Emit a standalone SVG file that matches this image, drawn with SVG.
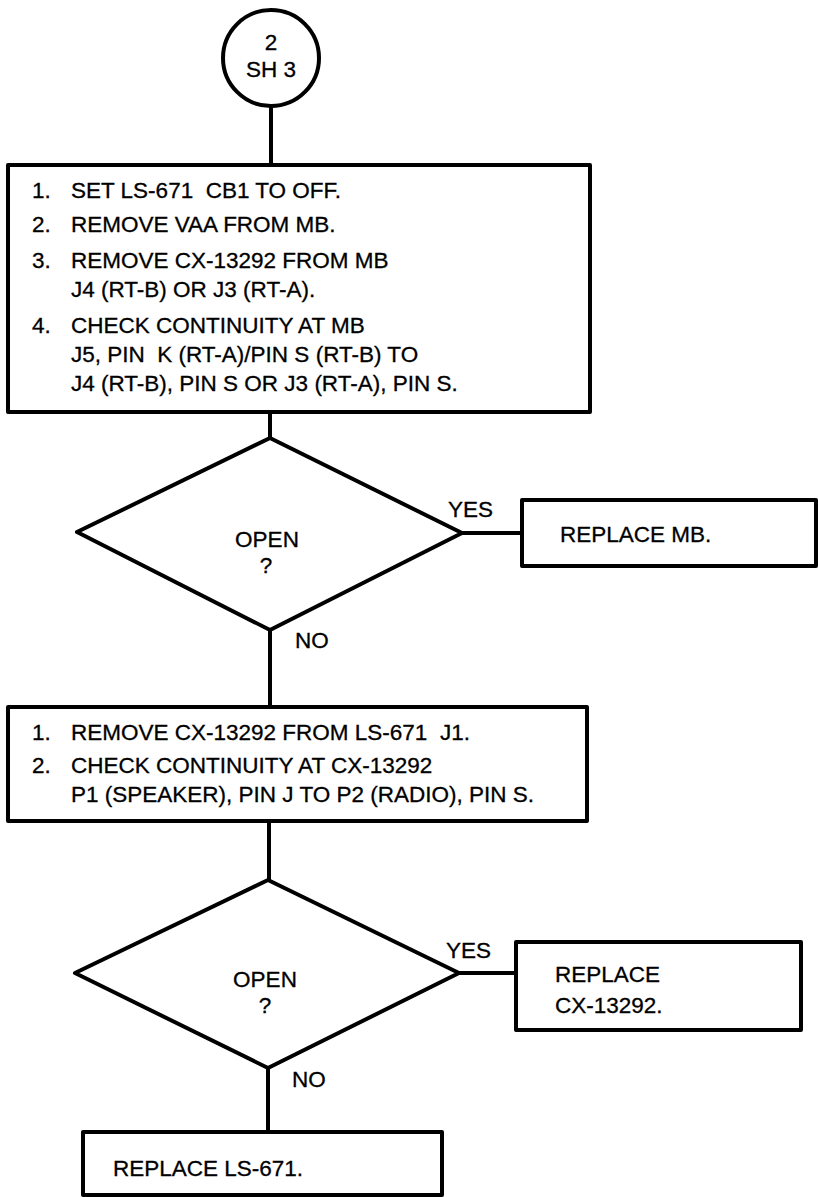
<svg xmlns="http://www.w3.org/2000/svg" width="818" height="1197" viewBox="0 0 818 1197">
<style>
.s{fill:#fff;stroke:#000;stroke-width:4;stroke-linejoin:round}
.c line{stroke:#000;stroke-width:4}
text{font-family:"Liberation Sans",Arial,Helvetica,sans-serif;font-size:22.5px;fill:#000;stroke:#000;stroke-width:0.3}
.m{text-anchor:middle}
</style>
<rect width="818" height="1197" fill="#fff"/>
<g class="c" id="connectors">
<line x1="271" y1="106" x2="271" y2="165"/>
<line x1="270" y1="412" x2="270" y2="438"/>
<line x1="462" y1="533" x2="522" y2="533"/>
<line x1="270" y1="630" x2="270" y2="707"/>
<line x1="269" y1="821" x2="269" y2="880"/>
<line x1="459" y1="973" x2="516" y2="973"/>
<line x1="268" y1="1068" x2="268" y2="1132"/>
</g>
<g id="start">
<circle class="s" cx="271" cy="58" r="48"/>
<text class="m" x="271" y="50">2</text>
<text class="m" x="271" y="77">SH 3</text>
</g>
<g id="box1">
<rect class="s" x="8" y="165" width="582" height="247"/>
<text x="32" y="198">1.</text><text x="71" y="198" xml:space="preserve">SET LS-671  CB1 TO OFF.</text>
<text x="32" y="232">2.</text><text x="71" y="232">REMOVE VAA FROM MB.</text>
<text x="32" y="268">3.</text><text x="71" y="268">REMOVE CX-13292 FROM MB</text>
<text x="71" y="297">J4 (RT-B) OR J3 (RT-A).</text>
<text x="32" y="333">4.</text><text x="71" y="333">CHECK CONTINUITY AT MB</text>
<text x="71" y="362" xml:space="preserve">J5, PIN  K (RT-A)/PIN S (RT-B) TO</text>
<text x="71" y="391">J4 (RT-B), PIN S OR J3 (RT-A), PIN S.</text>
</g>
<g id="decision1">
<polygon class="s" points="270,438 462,533 270,630 77,532"/>
<text class="m" x="267" y="547">OPEN</text>
<text class="m" x="266" y="573">?</text>
<text x="448" y="517">YES</text>
<text x="295" y="648">NO</text>
</g>
<g id="replaceMB">
<rect class="s" x="522" y="500" width="294" height="66"/>
<text x="560" y="542">REPLACE MB.</text>
</g>
<g id="box2">
<rect class="s" x="8" y="707" width="579" height="114"/>
<text x="32" y="740">1.</text><text x="71" y="740" xml:space="preserve">REMOVE CX-13292 FROM LS-671  J1.</text>
<text x="32" y="773">2.</text><text x="71" y="773">CHECK CONTINUITY AT CX-13292</text>
<text x="71" y="802">P1 (SPEAKER), PIN J TO P2 (RADIO), PIN S.</text>
</g>
<g id="decision2">
<polygon class="s" points="268,880 459,973 268,1068 75,973"/>
<text class="m" x="265" y="987">OPEN</text>
<text class="m" x="265" y="1013">?</text>
<text x="446" y="958">YES</text>
<text x="292" y="1087">NO</text>
</g>
<g id="replaceCX">
<rect class="s" x="516" y="942" width="285" height="88"/>
<text x="555" y="982">REPLACE</text>
<text x="555" y="1013">CX-13292.</text>
</g>
<g id="replaceLS">
<rect class="s" x="83" y="1132" width="359" height="63"/>
<text x="113" y="1176">REPLACE LS-671.</text>
</g>
</svg>
